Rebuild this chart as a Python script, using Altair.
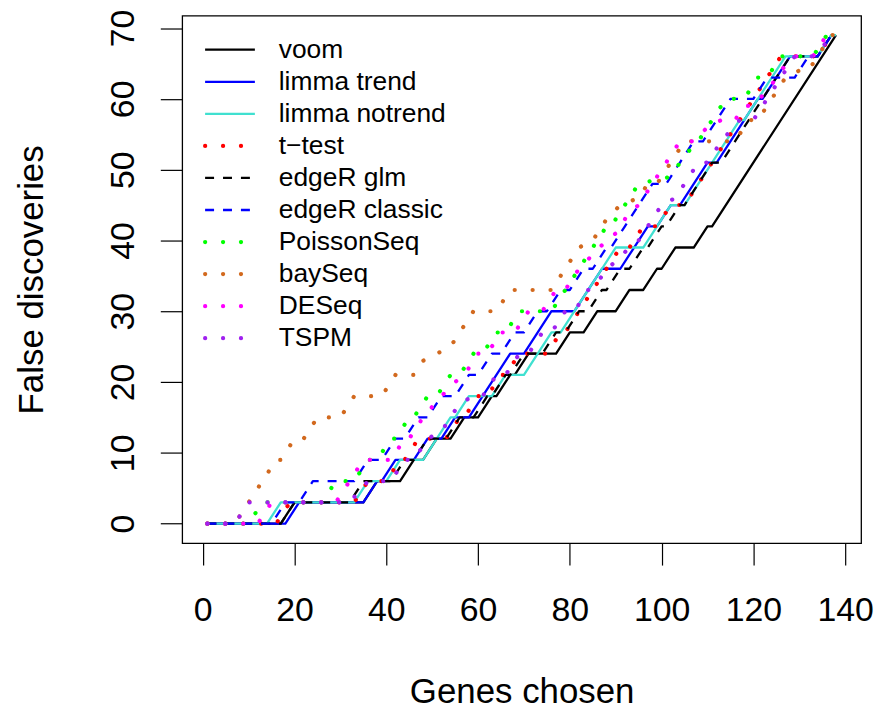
import altair as alt
import pandas as pd

# ---------------- data ----------------
series_names = ["voom", "limma trend", "limma notrend", "t\u2212test", "edgeR glm",
                "edgeR classic", "PoissonSeq", "baySeq", "DESeq", "TSPM"]
series_colors = ["#000000", "#0000FF", "#40E0D0", "#FF0000", "#000000",
                 "#0000FF", "#00FF00", "#D2691E", "#FF00FF", "#A020F0"]
series_styles = ["solid", "solid", "solid", "dotted", "dashed",
                 "dashed", "dotted", "dotted", "dotted", "dotted"]

voom_x = [1, 17, 20, 35, 38, 43, 46, 48, 51, 54, 57, 60, 63, 64, 67, 68, 71, 77, 80, 83, 86, 90, 93, 96, 99, 100, 103, 107, 110, 111, 138]
voom_y = [0, 0, 3, 3, 6, 6, 9, 9, 12, 12, 15, 15, 18, 18, 21, 21, 24, 24, 27, 27, 30, 30, 33, 33, 36, 36, 39, 39, 42, 42, 69]

limma_trend_x = [1, 18, 21, 35, 38, 39, 42, 46, 49, 52, 55, 58, 61, 64, 67, 70, 73, 76, 81, 84, 87, 91, 94, 97, 99, 102, 104, 107, 110, 112, 115, 118, 121, 122, 125, 128, 134, 137, 138]
limma_trend_y = [0, 0, 3, 3, 6, 6, 9, 9, 12, 12, 15, 15, 18, 21, 24, 24, 27, 30, 30, 33, 36, 36, 39, 42, 42, 45, 45, 48, 51, 51, 54, 57, 60, 60, 63, 66, 66, 69, 69]

limma_notrend_x = [1, 14, 17, 33, 36, 40, 43, 48, 54, 55, 58, 63, 66, 70, 76, 78, 81, 84, 87, 90, 96, 99, 102, 105, 108, 111, 114, 117, 118, 121, 124, 127, 134, 137, 138]
limma_notrend_y = [0, 0, 3, 3, 6, 6, 9, 9, 15, 15, 18, 18, 21, 21, 27, 27, 30, 33, 36, 39, 39, 42, 45, 45, 48, 51, 54, 57, 57, 60, 63, 66, 66, 69, 69]

t_test_x = [1, 16, 19, 33, 36, 40, 43, 44, 47, 53, 56, 57, 60, 62, 65, 66, 69, 75, 78, 79, 82, 85, 88, 91, 93, 96, 99, 102, 105, 108, 111, 114, 117, 120, 123, 126, 134, 137, 138]
t_test_y = [0, 0, 3, 3, 6, 6, 9, 9, 12, 12, 15, 15, 18, 18, 21, 21, 24, 24, 27, 27, 30, 33, 36, 39, 39, 42, 42, 45, 45, 48, 51, 54, 57, 60, 63, 66, 66, 69, 69]

edger_glm_x = [1, 17, 20, 32, 35, 41, 44, 46, 49, 53, 56, 59, 62, 63, 66, 67, 70, 74, 77, 79, 82, 84, 87, 88, 91, 93, 96, 97, 100, 101, 104, 105, 108, 111, 113, 116, 119, 122, 125, 128, 134, 137, 138]
edger_glm_y = [0, 0, 3, 3, 6, 6, 9, 9, 12, 12, 15, 15, 18, 18, 21, 21, 24, 24, 27, 27, 30, 30, 33, 33, 36, 36, 39, 39, 42, 42, 45, 45, 48, 51, 51, 54, 57, 60, 63, 66, 66, 69, 69]

edger_classic_x = [1, 15, 18, 21, 24, 33, 36, 39, 42, 44, 47, 49, 52, 55, 58, 60, 63, 65, 68, 70, 73, 75, 78, 80, 83, 85, 88, 89, 92, 95, 98, 101, 104, 107, 109, 112, 115, 120, 123, 129, 132, 134, 137, 138]
edger_classic_y = [0, 0, 3, 3, 6, 6, 9, 9, 12, 12, 15, 15, 18, 18, 21, 21, 24, 24, 27, 27, 30, 30, 33, 33, 36, 36, 39, 39, 42, 45, 48, 48, 51, 54, 54, 57, 60, 60, 63, 63, 66, 66, 69, 69]

poissonseq_x = [1, 10, 13, 26, 29, 33, 36, 38, 41, 42, 45, 46, 49, 51, 54, 56, 59, 61, 64, 66, 69, 76, 79, 82, 85, 88, 89, 93, 95, 102, 105, 108, 112, 114, 118, 121, 123, 126, 133, 136, 138]
poissonseq_y = [0, 0, 3, 3, 6, 6, 9, 9, 12, 12, 15, 15, 18, 18, 21, 21, 24, 24, 27, 27, 30, 30, 33, 36, 39, 42, 42, 46, 48, 49, 52, 54, 58, 60, 60, 63, 63, 66, 66, 69, 69]

bayseq_x = [1, 7, 16, 17, 20, 22, 25, 30, 33, 39, 42, 46, 48, 51, 54, 59, 64, 67, 76, 82, 85, 88, 91, 95, 97, 99, 102, 104, 105, 116, 119, 121, 123, 127, 130, 132, 137, 138]
bayseq_y = [0, 0, 9, 9, 12, 12, 15, 15, 18, 18, 21, 21, 23, 24, 25, 30, 30, 33, 33, 39, 40, 43, 45, 46, 48, 48, 51, 53, 54, 54, 57, 57, 59, 63, 64, 64, 69, 69]

deseq_x = [1, 12, 15, 29, 35, 41, 44, 45, 48, 52, 55, 57, 60, 62, 65, 68, 71, 74, 77, 79, 82, 85, 88, 90, 93, 95, 96, 100, 104, 107, 110, 113, 116, 118, 120, 124, 126, 129, 133, 136, 138]
deseq_y = [0, 0, 3, 3, 9, 9, 12, 12, 15, 18, 20, 21, 24, 24, 27, 27, 30, 30, 33, 33, 36, 38, 40, 41, 44, 45, 46, 50, 54, 54, 56, 57, 57, 59, 59, 62, 64, 66, 66, 69, 69]

tspm_x = [1, 7, 10, 32, 36, 41, 44, 46, 49, 52, 54, 56, 59, 61, 64, 66, 69, 71, 74, 76, 79, 81, 84, 86, 88, 90, 93, 95, 98, 100, 103, 105, 108, 110, 113, 117, 120, 124, 126, 129, 133, 136, 138]
tspm_y = [0, 0, 3, 3, 6, 6, 9, 9, 12, 13, 15, 17, 18, 18, 21, 21, 24, 24, 27, 27, 30, 30, 33, 34, 36, 37, 39, 40, 43, 45, 46, 48, 51, 51, 54, 57, 57, 61, 63, 66, 66, 68, 69]

series_x = [voom_x, limma_trend_x, limma_notrend_x, t_test_x, edger_glm_x,
            edger_classic_x, poissonseq_x, bayseq_x, deseq_x, tspm_x]
series_y = [voom_y, limma_trend_y, limma_notrend_y, t_test_y, edger_glm_y,
            edger_classic_y, poissonseq_y, bayseq_y, deseq_y, tspm_y]

x_ticks = [0, 20, 40, 60, 80, 100, 120, 140]
y_ticks = [0, 10, 20, 30, 40, 50, 60, 70]

# ---------------- styling ----------------
FONT = "Liberation Sans"
W, H = 682, 530


def line_props(style):
    if style == "solid":
        return dict(strokeWidth=2.3)
    if style == "dashed":
        return dict(strokeWidth=2.3, strokeDash=[9, 9])
    return dict(strokeWidth=4.2, strokeDash=[0.1, 17.9], strokeCap="round")


x_enc = alt.X(
    "x:Q",
    scale=alt.Scale(domain=[-4.48, 143.48], nice=False, zero=False),
    axis=alt.Axis(
        values=x_ticks, title="Genes chosen", grid=False, domain=False,
        tickSize=22, tickColor="black", tickWidth=1.2,
        labelFont=FONT, labelFontSize=34, labelColor="black",
        labelPadding=56, labelBaseline="alphabetic", labelFlush=False,
        labelOverlap=False,
        titleFont=FONT, titleFontSize=35, titleFontWeight="normal",
        titleColor="black", titleBaseline="alphabetic", titleY=160,
    ),
)
y_enc = alt.Y(
    "y:Q",
    scale=alt.Scale(domain=[-2.76, 71.76], nice=False, zero=False),
    axis=alt.Axis(
        values=y_ticks, title="False discoveries", grid=False, domain=False,
        tickSize=22, tickColor="black", tickWidth=1.2,
        labelFont=FONT, labelFontSize=34, labelColor="black",
        labelAngle=270, labelAlign="center", labelBaseline="alphabetic",
        labelPadding=27, labelFlush=False, labelOverlap=False,
        titleFont=FONT, titleFontSize=35, titleFontWeight="normal",
        titleColor="black", titleAngle=270, titleAlign="center",
        titleBaseline="alphabetic", titleX=-140, titleY=H / 2,
    ),
)

layers = []
for name, color, style, xs, ys in zip(series_names, series_colors, series_styles,
                                      series_x, series_y):
    df = pd.DataFrame({"x": xs, "y": ys, "i": list(range(len(xs)))})
    layers.append(
        alt.Chart(df).mark_line(color=color, strokeJoin="round", **line_props(style))
        .encode(x=x_enc, y=y_enc, order="i:Q")
    )

# manual legend (top-left inside the box, no frame)
leg_x0, leg_x1, leg_tx = 23, 73, 97
leg_y0, leg_dy = 34.3, 32.2
for k, (name, color, style) in enumerate(zip(series_names, series_colors, series_styles)):
    py = leg_y0 + k * leg_dy
    one = pd.DataFrame({"label": [name]})
    layers.append(
        alt.Chart(one).mark_rule(color=color, **line_props(style))
        .encode(x=alt.value(leg_x0), x2=alt.value(leg_x1), y=alt.value(py))
    )
    layers.append(
        alt.Chart(one).mark_text(align="left", baseline="middle", font=FONT,
                                 fontSize=26.5, color="black")
        .encode(text="label:N", x=alt.value(leg_tx), y=alt.value(py))
    )

chart = (
    alt.layer(*layers)
    .properties(width=W, height=H,
                autosize=alt.AutoSizeParams(type="none"),
                padding={"left": 175, "top": 6, "right": 25, "bottom": 170},
                background="white")
    .configure_view(stroke="black", strokeWidth=1.3)
)

chart.save("out.html", embed_options={"renderer": "svg", "actions": False})
